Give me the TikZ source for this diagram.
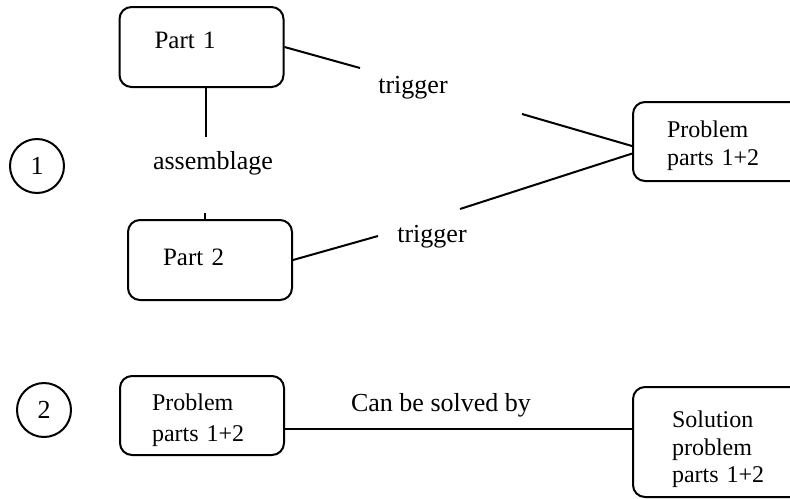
\documentclass[tikz,border=0pt]{standalone}
\usepackage{fontspec}
\setmainfont{Liberation Serif}

\begin{document}
\begin{tikzpicture}[x=0.5pt, y=-0.5pt, line width=1pt,
		part/.style={draw, rounded corners=6pt, text width=47pt, inner xsep=17.5pt, align=left, minimum height=40pt, font=\fontsize{12.5}{14}\selectfont},
		probbox/.style={draw, rounded corners=6pt, align=left, font=\fontsize{12}{13.75}\selectfont},
		num/.style={draw, circle, minimum size=27pt, inner sep=0pt, font=\fontsize{13}{15}\selectfont},
		lbl/.style={font=\fontsize{13}{15}\selectfont}]
		%%%%% START %%%%%
		
		\useasboundingbox (0, 0) rectangle (790, 498);
		
		% case 1
		\node[num] (n1) at (37, 166) {1};
		\node[part] (p1) at (201.5, 47) {Part 1\rule[-7pt]{0pt}{7pt}};
		\node[part] (p2) at (210, 260) {Part 2\rule[-3pt]{0pt}{3pt}};
		\node[probbox, text width=51pt, inner xsep=17pt, minimum height=39.5pt] (prob) at (718, 141.5) {\rule{0pt}{12.7pt}Problem\\parts 1+2};
		
		\node[lbl] (asm) at (213, 163) {assemblage};
		\node[lbl] (trig1) at (413, 88) {trigger};
		\node[lbl] (trig2) at (432, 237) {trigger};
		
		\coordinate (a1) at (206, 137);
		\coordinate (a2) at (205, 213);
		\draw (p1.south -| a1) -- (a1);
		\draw (a2) -- (a2 |- p2.north);
		
		\coordinate (t1a) at (360, 68);
		\coordinate (t1b) at (522, 114);
		\draw (p1.east) -- (t1a);
		\draw (t1b) -- (prob.183);
		
		\coordinate (t2a) at (378, 236);
		\coordinate (t2b) at (460, 209);
		\draw (p2.east) -- (t2a);
		\draw (t2b) -- (prob.188);
		
		% case 2
		\node[num] (n2) at (44, 410) {2};
		\node[probbox, text width=50pt, inner xsep=16pt, minimum height=39.5pt, font=\fontsize{12}{15.5}\selectfont] (prob2) at (202, 415.5) {\rule{0pt}{13.2pt}Problem\\parts 1+2};
		\node[probbox, text width=48pt, inner xsep=19.5pt, minimum height=55pt] (sol) at (720, 442) {\rule{0pt}{15.7pt}Solution\\problem\\parts 1+2};
		\node[lbl] (solv) at (441, 405) {Can be solved by};
		
		\coordinate (c2) at (400, 429);
		\draw (prob2.east |- c2) -- (sol.west |- c2);
		
		%%%%% END %%%%%
	\end{tikzpicture}
\end{document}
